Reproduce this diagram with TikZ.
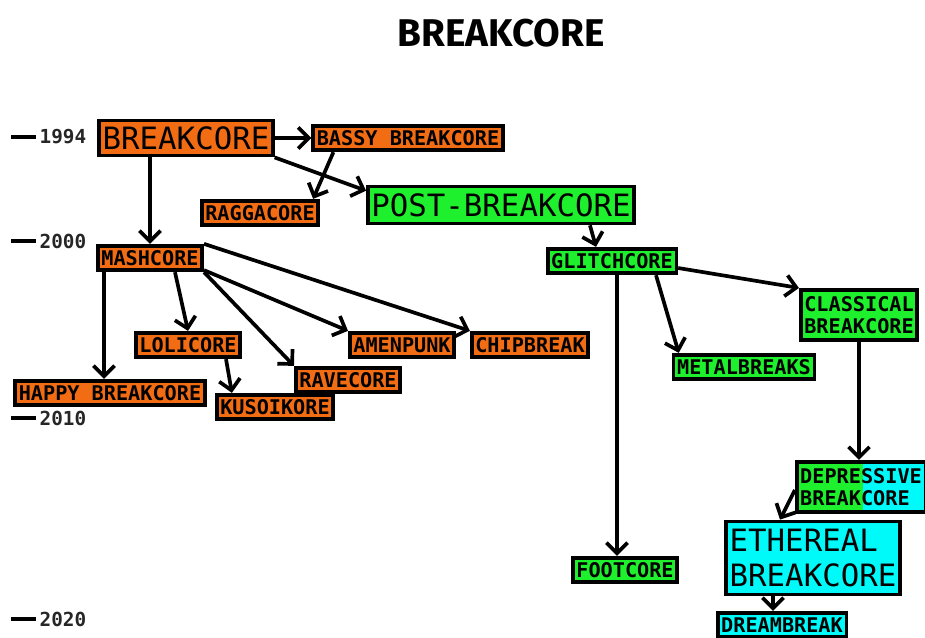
\documentclass[tikz,border=0pt]{standalone}
\usepackage{fontspec}
\setmonofont{DejaVu Sans Mono}
\newfontfamily\titlefont{Fira Sans}
\usetikzlibrary{arrows.meta}

\definecolor{orng}{RGB}{242,108,20}
\definecolor{grn}{RGB}{30,240,45}
\definecolor{cyn}{RGB}{0,250,250}

\begin{document}
\begin{tikzpicture}[x=0.02cm,y=-0.02cm,->,>={Straight Barb[length=6pt,width=12pt]},
  line width=2.1pt,
  genre/.style={draw,rectangle,inner xsep=2pt,inner ysep=1pt,minimum height=14pt,
    font=\ttfamily\bfseries\fontsize{11.5}{12.8}\selectfont},
  two/.style={genre,align=left,inner ysep=3.6pt},
  big/.style={genre,font=\ttfamily\fontsize{17.5}{19.8}\selectfont,minimum height=20pt},
  year/.style={inner sep=1pt,text=black!85,font=\ttfamily\bfseries\fontsize{11}{13}\selectfont},
  tick/.style={-,line width=2pt}]

\useasboundingbox (0,0) rectangle (925,637);

\node[font=\titlefont\bfseries\fontsize{22}{26}\selectfont] (title) at (501,33) {BREAKCORE};

\node[year] (y94) at (63,137) {1994};
\node[year] (y00) at (63,241) {2000};
\node[year] (y10) at (63,418) {2010};
\node[year] (y20) at (63,619) {2020};
\draw[tick] ([xshift=-0.5cm]y94.west) -- (y94.west);
\draw[tick] ([xshift=-0.5cm]y00.west) -- (y00.west);
\draw[tick] ([xshift=-0.5cm]y10.west) -- (y10.west);
\draw[tick] ([xshift=-0.5cm]y20.west) -- (y20.west);

\node[big,fill=orng] (breakcore) at (186,138) {BREAKCORE};
\node[genre,fill=orng] (bassy) at (408,138) {BASSY BREAKCORE};
\node[genre,fill=orng] (ragga) at (260,213) {RAGGACORE};
\node[big,fill=grn,minimum height=21pt] (post) at (501,205) {POST-BREAKCORE};
\node[genre,fill=orng] (mash) at (150,258) {MASHCORE};
\node[genre,fill=grn] (glitch) at (612,261) {GLITCHCORE};
\node[two,fill=grn] (classic) at (859,315) {CLASSICAL\\BREAKCORE};
\node[genre,fill=orng] (loli) at (188,345) {LOLICORE};
\node[genre,fill=orng] (amen) at (402,345) {AMENPUNK};
\node[genre,fill=orng] (chip) at (530,345) {CHIPBREAK};
\node[genre,fill=grn] (metal) at (744,367) {METALBREAKS};
\node[genre,fill=orng] (rave) at (348,380) {RAVECORE};
\node[genre,fill=orng] (happy) at (110,393) {HAPPY BREAKCORE};
\node[genre,fill=orng] (kuso) at (275,407) {KUSOIKORE};
\node[two,fill=cyn,path picture={\fill[grn] (path picture bounding box.south west)
  rectangle ([xshift=0.04cm]path picture bounding box.north);}] (depr) at (861,487) {DEPRESSIVE\\BREAKCORE};
\node[big,align=left,fill=cyn,inner ysep=4.4pt,
  font=\ttfamily\fontsize{17.5}{19.8}\selectfont] (ether) at (813,558) {ETHEREAL\\BREAKCORE};
\node[genre,fill=grn] (foot) at (625,570) {FOOTCORE};
\node[genre,fill=cyn] (dream) at (782,625) {DREAMBREAK};

\path (breakcore) edge (bassy)
  (breakcore.south east) edge ([yshift=-0.12cm]post.north west)
  ([xshift=0.44cm]bassy.south west) edge ([xshift=-0.14cm]ragga.north east)
  (breakcore.south -| mash.north) edge (mash.north)
  ([xshift=0.16cm]mash.south west) edge ([xshift=0.16cm]mash.south west |- happy.north)
  ([xshift=0.5cm]mash.south) edge (loli.north)
  (mash.south east) edge (rave.north west)
  ([yshift=0.04cm]mash.south east) edge (amen.north west)
  (mash.north east) edge (chip.north west)
  ([xshift=-0.32cm]loli.south east) edge ([xshift=0.34cm]kuso.north west)
  ([xshift=-0.92cm]post.south east) edge ([xshift=-0.32cm]glitch.north)
  ([yshift=-0.14cm]glitch.east) edge (classic.north west)
  ([xshift=0.88cm]glitch.south) edge ([xshift=0.14cm]metal.north west)
  ([xshift=0.1cm]glitch.south) edge ([xshift=0.1cm]glitch.south |- foot.north)
  (classic.south) edge (classic.south |- depr.north)
  ([yshift=-0.06cm]depr.west) edge ([xshift=-0.66cm]ether.north)
  ([xshift=-0.8cm]ether.south) edge ([xshift=-0.8cm]ether.south |- dream.north);

\end{tikzpicture}
\end{document}
